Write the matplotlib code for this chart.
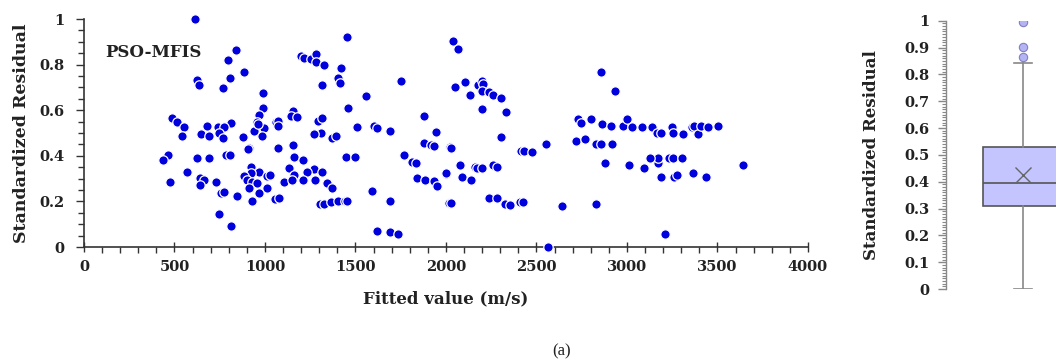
import numpy as np
import matplotlib
matplotlib.use("Agg")
import matplotlib.pyplot as plt
from matplotlib.ticker import MultipleLocator

# fitted value (m/s) and standardized residual
fitted = [612, 838, 794, 884, 807, 770, 627, 636, 989, 989, 965, 954, 995, 982,
          814, 682, 739, 774, 746, 645, 689, 770, 877, 485, 514, 551, 540, 464,
          435, 627, 689, 783, 807, 912, 925, 967, 921, 884, 903, 930, 958, 1013,
          912, 967, 930, 567, 476, 640, 663, 641, 732, 755, 774, 848, 744, 814,
          940, 960, 904,
          1451, 1197, 1215, 1252, 1280, 1280, 1326, 1422, 1403, 1414, 1317, 1750,
          1556, 1459, 1156, 1145, 1175, 1060, 1072, 1072, 1293, 1317, 1308, 1271,
          1372, 1390, 1510, 1602, 1621, 1691, 1878, 1943, 1878, 1915, 1934, 1072,
          1156, 1160, 1212, 1446, 1495, 1768, 1814, 1836, 1133, 1271, 1234, 1317,
          1028, 1160, 1105, 1151, 1212, 1274, 1344, 1372, 1013, 1053, 1077, 1304,
          1326, 1363, 1403, 1442, 1455, 1593, 1691, 1617, 1689, 1735, 1838, 1884,
          1934, 1952, 1998, 2016,
          2041, 2069, 2050, 2104, 2131, 2177, 2201, 2207, 2201, 2238, 2262, 2306,
          2334, 2201, 2306, 2020, 2026, 2078, 1999, 2087, 2140, 2158, 2174, 2197,
          2258, 2280, 2026, 2238, 2280, 2325, 2355, 2408, 2425, 2415, 2431, 2474,
          2555, 2562, 2643, 2727, 2747, 2804, 2864, 2855, 2933, 2914, 2980, 2999,
          2721, 2767, 2828, 2855, 2916, 2879, 2828, 3012,
          3029, 3081, 3136, 3165, 3186, 3250, 3255, 3309, 3361, 3372, 3392, 3411,
          3448, 3501, 3092, 3173, 3173, 3127, 3232, 3256, 3306, 3190, 3260, 3278,
          3367, 3437, 3641, 3208]
residual = [0.999, 0.863, 0.819, 0.768, 0.740, 0.696, 0.733, 0.711, 0.675, 0.611,
            0.58, 0.55, 0.52, 0.488, 0.545, 0.532, 0.528, 0.525, 0.502, 0.496,
            0.488, 0.48, 0.481, 0.567, 0.547, 0.525, 0.488, 0.404, 0.38, 0.389,
            0.389, 0.402, 0.402, 0.433, 0.352, 0.327, 0.323, 0.313, 0.294, 0.287,
            0.28, 0.313, 0.257, 0.235, 0.202, 0.33, 0.287, 0.301, 0.294, 0.272,
            0.287, 0.238, 0.243, 0.224, 0.145, 0.092,
            0.51, 0.54, 0.43,
            0.92, 0.838, 0.83, 0.823, 0.845, 0.813, 0.798, 0.784, 0.74, 0.718,
            0.711, 0.728, 0.662, 0.611, 0.598, 0.575, 0.572, 0.548, 0.553, 0.531,
            0.554, 0.564, 0.502, 0.496, 0.477, 0.488, 0.525, 0.532, 0.523, 0.51,
            0.575, 0.503, 0.455, 0.447, 0.445, 0.433, 0.447, 0.396, 0.382, 0.396,
            0.396, 0.404, 0.375, 0.367, 0.345, 0.341, 0.328, 0.33, 0.316, 0.318,
            0.287, 0.294, 0.294, 0.294, 0.282, 0.257, 0.257, 0.209, 0.217, 0.188,
            0.187, 0.196, 0.2, 0.2, 0.2, 0.245, 0.2, 0.072, 0.064, 0.056, 0.301,
            0.294, 0.29, 0.267, 0.32, 0.194,
            0.905, 0.868, 0.703, 0.725, 0.668, 0.71, 0.728, 0.715, 0.683, 0.68,
            0.668, 0.653, 0.59, 0.604, 0.481, 0.44, 0.433, 0.36, 0.326, 0.309,
            0.294, 0.35, 0.345, 0.345, 0.36, 0.352, 0.194, 0.214, 0.214, 0.187,
            0.186, 0.199, 0.199, 0.423, 0.423, 0.415, 0.452, 0.0, 0.18, 0.56,
            0.545, 0.56, 0.539, 0.769, 0.683, 0.531, 0.531, 0.56, 0.466, 0.474,
            0.452, 0.452, 0.452, 0.367, 0.189, 0.36,
            0.525, 0.525, 0.525, 0.50, 0.502, 0.525, 0.50, 0.496, 0.525, 0.53,
            0.496, 0.532, 0.525, 0.531, 0.345, 0.367, 0.389, 0.392, 0.389, 0.389,
            0.389, 0.309, 0.309, 0.317, 0.323, 0.309, 0.36, 0.057]

# box plot summary
box_q1 = 0.308
box_median = 0.397
box_q3 = 0.531
box_mean = 0.426
whisker_low = 0.0
whisker_high = 0.844
outliers = [0.995, 0.903, 0.864]

label_font = {"family": "DejaVu Serif", "weight": "bold"}

fig = plt.figure(figsize=(10.56, 3.64), dpi=100)

# scatter of residuals
ax = fig.add_axes([0.0795, 0.3214, 0.6856, 0.6264])
ax.scatter(fitted, residual, s=46, color="#0000DD", edgecolors="white",
           linewidths=0.9, clip_on=False, zorder=3)
ax.set_xlim(0, 4000)
ax.set_ylim(0, 1)
ax.xaxis.set_major_locator(MultipleLocator(500))
ax.xaxis.set_minor_locator(MultipleLocator(100))
ax.yaxis.set_minor_locator(MultipleLocator(0.05))
ax.set_yticks([0, 0.2, 0.4, 0.6, 0.8, 1])
ax.set_yticklabels(["0", "0.2", "0.4", "0.6", "0.8", "1"])
for s in ["top", "right"]:
    ax.spines[s].set_visible(False)
for s in ["left", "bottom"]:
    ax.spines[s].set_color("#333333")
    ax.spines[s].set_linewidth(1.2)
ax.tick_params(axis="x", which="major", direction="inout", length=7, width=1,
               color="#333333", pad=6)
ax.tick_params(axis="x", which="minor", direction="out", length=4, width=1,
               color="#333333")
ax.tick_params(axis="y", which="major", direction="out", length=6, width=1,
               color="#333333", pad=8)
ax.tick_params(axis="y", which="minor", direction="out", length=4, width=1,
               color="#333333")
for lab in ax.get_xticklabels() + ax.get_yticklabels():
    lab.set_fontproperties(label_font)
    lab.set_fontsize(10.5)
    lab.set_color("#222222")
ax.set_xlabel("Fitted value (m/s)", fontsize=12, color="#222222", **label_font)
ax.set_ylabel("Standardized Residual", fontsize=12.5, color="#222222", **label_font)
ax.xaxis.set_label_coords(0.5, -0.19)
ax.yaxis.set_label_coords(-0.075, 0.5)
ax.text(0.029, 0.855, "PSO-MFIS", transform=ax.transAxes, ha="left", va="center",
        fontsize=12, color="#222222", **label_font)

# box plot panel
bx = fig.add_axes([0.8958, 0.206, 0.1042, 0.737])
stats = [{"q1": box_q1, "med": box_median, "q3": box_q3, "mean": box_mean,
          "whislo": whisker_low, "whishi": whisker_high, "fliers": outliers}]
bx.bxp(stats, positions=[0.7], widths=0.727, patch_artist=True, showmeans=True,
       boxprops=dict(facecolor="#C4C4FF", edgecolor="#555555", linewidth=1.2),
       medianprops=dict(color="#555555", linewidth=1.2),
       whiskerprops=dict(color="#888888", linewidth=1.2),
       capprops=dict(color="#888888", linewidth=1.2),
       capwidths=0.17,
       meanprops=dict(marker="x", markersize=11, markeredgecolor="#666666",
                      markeredgewidth=1.0),
       flierprops=dict(marker="o", markersize=6, markerfacecolor="#B4B4F4",
                       markeredgecolor="#8080C0", markeredgewidth=0.8))
bx.set_xlim(0, 1)
bx.set_ylim(0, 1)
bx.yaxis.set_minor_locator(MultipleLocator(0.01))
bx.set_yticks(np.round(np.arange(0, 1.01, 0.1), 1))
bx.set_yticklabels(["0", "0.1", "0.2", "0.3", "0.4", "0.5", "0.6", "0.7",
                    "0.8", "0.9", "1"])
for s in ["top", "right", "bottom"]:
    bx.spines[s].set_visible(False)
bx.spines["left"].set_color("#888888")
bx.spines["left"].set_linewidth(1.0)
bx.set_xticks([])
bx.tick_params(axis="y", which="major", direction="out", length=6, width=1,
               color="#888888", pad=6)
bx.tick_params(axis="y", which="minor", direction="out", length=3, width=0.8,
               color="#888888")
for lab in bx.get_yticklabels():
    lab.set_fontproperties(label_font)
    lab.set_fontsize(10.5)
    lab.set_color("#222222")
bx.set_ylabel("Standardized Residual", fontsize=12, color="#222222", **label_font)
bx.yaxis.set_label_coords(-0.6, 0.5)

fig.text(0.532, 0.035, "(a)", ha="center", va="center", fontsize=12,
         family="Liberation Serif", color="#222222")

fig.savefig("out.png", dpi=100)
